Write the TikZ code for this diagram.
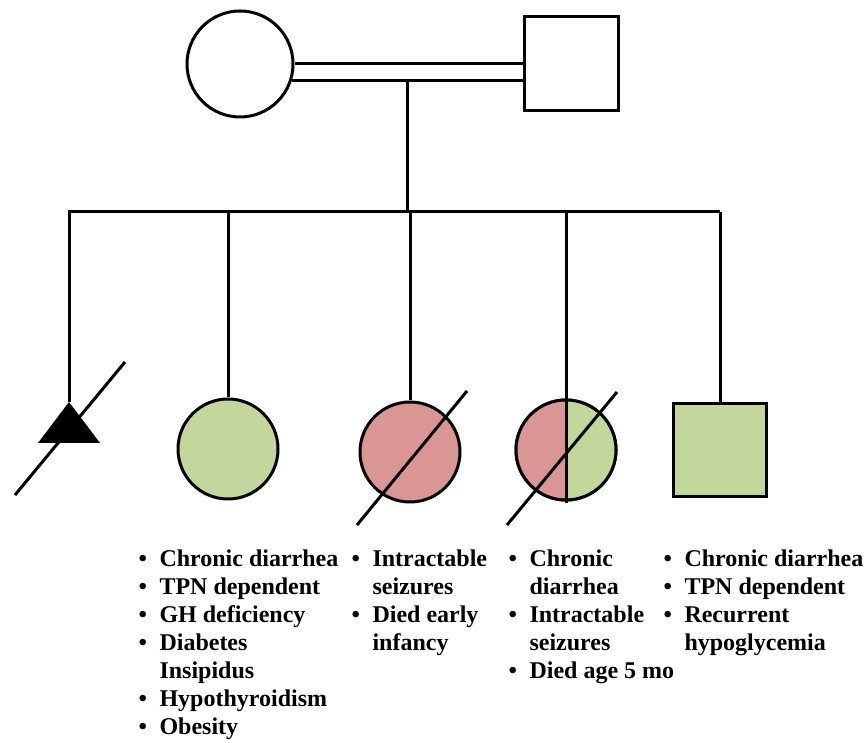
\documentclass[tikz,border=0pt]{standalone}
\usepackage{fontspec}
\setmainfont{Liberation Serif}
\definecolor{affgreen}{HTML}{C3D69B}
\definecolor{affred}{HTML}{D99694}
\newcommand{\notefont}{\fontsize{24}{28}\selectfont\bfseries}

\begin{document}
\begin{tikzpicture}[x=1pt,y=1pt,line width=3pt,
  female/.style={draw,circle,inner sep=0pt,minimum size=#1},
  male/.style={draw,rectangle,inner sep=0pt,minimum size=#1},
  notes/.style={anchor=base west,inner sep=0pt,font=\notefont}]
\useasboundingbox (0,0) rectangle (866,743);

% parents
\node[female=106] (mom) at (240,679) {};
\node[male=94] (dad) at (571,679) {};
\path[draw] (mom.east) -- (dad.west);
\path[draw] (mom.-18) -- (mom.-18 -| dad.west);
\coordinate (drop) at (407,661);
\coordinate (sib) at (407,531);
\path[draw] (drop) -- (sib);

% children
\coordinate (k1) at (69,341);
\node[female=100,fill=affgreen] (k2) at (228,294) {};
\node[female=100,fill=affred] (k3) at (410,291) {};
\node[female=100] (k4) at (566,293) {};
\node[male=93,fill=affgreen] (k5) at (720,293) {};

\path[draw] (k1) |- (k5 |- sib);
\path[draw] (k2.north) -- (k2 |- sib);
\path[draw] (k3.north) -- (k3 |- sib);
\path[draw] (k5.north) -- (k5 |- sib);

\fill (k1) -- ++(-31,-41) -- ++(62,0) -- cycle;

\fill[affred] (k4.north) arc[start angle=90,end angle=270,radius=50pt] -- cycle;
\fill[affgreen] (k4.north) arc[start angle=90,end angle=-90,radius=50pt] -- cycle;
\path[draw] (k4.center) circle[radius=50pt];
\coordinate (k4end) at (566,240);
\path[draw] (k4 |- sib) -- (k4end);

% deceased
\path[draw] (15,248) -- (125,381);
\path[draw] (357,218) -- (467,352);
\path[draw] (507,218) -- (617,351);

% notes
\node[notes] (n2) at (137,176) {\begin{tabular}[t]{@{}l@{\hspace{12.6pt}}l@{}}
\textbullet & Chronic diarrhea\\
\textbullet & TPN dependent\\
\textbullet & GH deficiency\\
\textbullet & Diabetes\\
 & Insipidus\\
\textbullet & Hypothyroidism\\
\textbullet & Obesity
\end{tabular}};
\node[notes] (n3) at (350,176) {\begin{tabular}[t]{@{}l@{\hspace{12.6pt}}l@{}}
\textbullet & Intractable\\
 & seizures\\
\textbullet & Died early\\
 & infancy
\end{tabular}};
\node[notes] (n4) at (507,176) {\begin{tabular}[t]{@{}l@{\hspace{12.6pt}}l@{}}
\textbullet & Chronic\\
 & diarrhea\\
\textbullet & Intractable\\
 & seizures\\
\textbullet & Died age 5 mo
\end{tabular}};
\node[notes] (n5) at (662,176) {\begin{tabular}[t]{@{}l@{\hspace{12.6pt}}l@{}}
\textbullet & Chronic diarrhea\\
\textbullet & TPN dependent\\
\textbullet & Recurrent\\
 & hypoglycemia
\end{tabular}};
\end{tikzpicture}
\end{document}
